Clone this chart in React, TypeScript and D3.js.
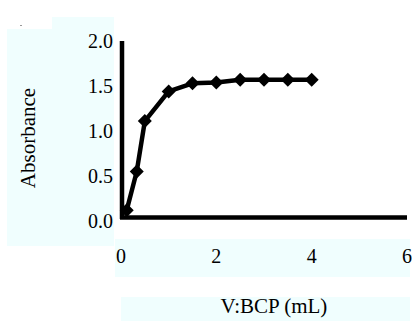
import React from "react";
import * as d3 from "d3";

// volume of BCP (mL) and measured absorbance
const volumes = [0.12, 0.33, 0.5, 1, 1.5, 2, 2.5, 3, 3.5, 4];
const absorbance = [0.12, 0.55, 1.11, 1.44, 1.53, 1.54, 1.57, 1.57, 1.57, 1.57];
const xTicks = [0, 2, 4, 6];
const yTicks = [0, 0.5, 1, 1.5, 2];

const W = 412;
const H = 321;
const FONT = "'Liberation Serif', 'Times New Roman', serif";
const PANEL = "#f0fefe";

const App = () => {
  const x = d3.scaleLinear().domain([0, 6]).range([121, 407]);
  const y = d3.scaleLinear().domain([0, 2]).range([221, 41]);

  const pts = volumes.map((v, i) => [x(v), y(absorbance[i])] as [number, number]);
  const line = d3.line()(pts) || "";

  // diamond marker
  const mk = 7;
  const diamond = `M0,${-mk}L${mk},0L0,${mk}L${-mk},0Z`;

  return (
    <svg width={W} height={H} style={{ position: "absolute", left: 0, top: 0 }}>
      <rect width={W} height={H} fill="#fff" />
      {/* light panels behind the labels */}
      <rect x={52} y={17} width={62} height={12} fill={PANEL} />
      <rect x={7} y={29} width={107} height={217} fill={PANEL} />
      <rect x={115} y={239} width={295} height={38} fill={PANEL} />
      <rect x={121} y={297} width={289} height={24} fill={PANEL} />
      <rect x={20} y={25} width={2} height={1} fill="#999" />

      {/* axes */}
      <line x1={x(0) + 1} x2={x(0) + 1} y1={y(2)} y2={y(0) - 2} stroke="#000" strokeWidth={4.5} />
      <line x1={x(0) - 1} x2={x(6)} y1={y(0) - 3.5} y2={y(0) - 3.5} stroke="#000" strokeWidth={4.5} />

      {yTicks.map((t) => (
        <text key={t} x={113} y={y(t)} dy="0.35em" textAnchor="end"
          fontFamily={FONT} fontSize={20}>{t.toFixed(1)}</text>
      ))}
      {xTicks.map((t) => (
        <text key={t} x={x(t)} y={263} textAnchor="middle"
          fontFamily={FONT} fontSize={20}>{t}</text>
      ))}

      <path d={line} fill="none" stroke="#000" strokeWidth={4.5} strokeLinejoin="round" />
      {pts.map(([px, py], i) => (
        <path key={i} d={diamond} transform={`translate(${px},${py})`} fill="#000" />
      ))}

      <text x={274} y={313} textAnchor="middle" fontFamily={FONT} fontSize={21}>V:BCP (mL)</text>
      <text transform="translate(35,138) rotate(-90)" textAnchor="middle"
        fontFamily={FONT} fontSize={21}>Absorbance</text>
    </svg>
  );
};

export default App;
